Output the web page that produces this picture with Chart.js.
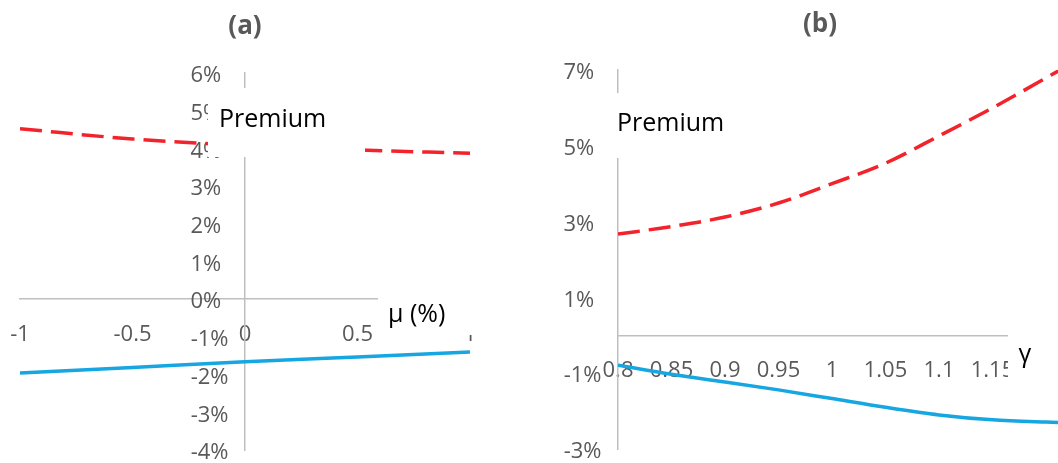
<!DOCTYPE html>
<html>
<head>
<meta charset="utf-8">
<script src="https://cdn.jsdelivr.net/npm/chart.js@4.4.1/dist/chart.umd.min.js"></script>
<style>
  html, body { margin: 0; padding: 0; background: #ffffff; }
  #wrap { position: relative; width: 1058px; height: 463px; overflow: hidden; }
  canvas { position: absolute; top: 0; }
  #panelA { left: 0; }
  #panelB { left: 520px; }
</style>
</head>
<body>
<div id="wrap">
  <canvas id="panelA" width="520" height="463"></canvas>
  <canvas id="panelB" width="538" height="463"></canvas>
</div>
<script>
// Panel (a): premium as a function of the drift μ (%)
const muValues       = [-1, -0.5, 0, 0.5, 1];
const premiumUpperA  = [4.52, 4.25, 4.08, 3.96, 3.87];
const premiumLowerA  = [-1.96, -1.81, -1.66, -1.53, -1.40];
const muTicks        = [-1, -0.5, 0, 0.5, 1];
const premiumTicksA  = [-4, -3, -2, -1, 0, 1, 2, 3, 4, 5, 6];

// Panel (b): premium as a function of γ
const gammaValues    = [0.8, 0.85, 0.9, 0.95, 1, 1.05, 1.1, 1.15, 1.2, 1.25];
const premiumUpperB  = [2.67, 2.87, 3.12, 3.49, 4.00, 4.54, 5.26, 6.00, 6.79, 7.60];
const premiumLowerB  = [-0.79, -1.03, -1.23, -1.44, -1.67, -1.90, -2.10, -2.23, -2.29, -2.33];
const gammaTicks     = [0.8, 0.85, 0.9, 0.95, 1, 1.05, 1.1, 1.15, 1.2];
const premiumTicksB  = [-3, -1, 1, 3, 5, 7];

const FONT = "'Open Sans', 'Noto Sans', sans-serif";
const TICK_COLOR = '#595959';
const AXIS_COLOR = '#BFBFBF';
const RED = '#F2232B';
const BLUE = '#16A6E1';

// percent labels sit clear of the vertical axis; non-negative ones a little further out
const pct = v => (v >= 0 ? v + '%\u2002\u2005\u2004' : v + '%\u2002\u2005');
const num = v => String(Math.round(v * 100) / 100);
const points = (xs, ys) => xs.map((x, i) => ({ x: x, y: ys[i] }));

// Title and label boxes; each box is filled white so it hides what lies beneath it
const labelBoxes = {
  id: 'labelBoxes',
  afterDatasetsDraw(chart, args, opts) {
    const ctx = chart.ctx;
    ctx.save();
    (opts.items || []).forEach(it => {
      if (it.rect) {
        ctx.fillStyle = '#ffffff';
        ctx.fillRect(it.rect[0], it.rect[1], it.rect[2] - it.rect[0], it.rect[3] - it.rect[1]);
      }
      ctx.fillStyle = it.color || '#000000';
      ctx.font = it.font;
      ctx.textAlign = it.align || 'left';
      ctx.textBaseline = 'middle';
      ctx.fillText(it.text, it.x, it.y);
    });
    ctx.restore();
  }
};

function noSpace(s, horizontal) {
  if (horizontal) { s.height = 0; } else { s.width = 0; }
  s.paddingLeft = 0; s.paddingRight = 0; s.paddingTop = 0; s.paddingBottom = 0;
}

function upperSet(data) {
  return {
    data: data, borderColor: RED, borderWidth: 3.5, borderDash: [22, 9],
    pointRadius: 0, fill: false, cubicInterpolationMode: 'monotone'
  };
}
function lowerSet(data) {
  return {
    data: data, borderColor: BLUE, borderWidth: 3.5,
    pointRadius: 0, fill: false, cubicInterpolationMode: 'monotone'
  };
}
function xScale(min, max, ticks, pad) {
  return {
    type: 'linear', min: min, max: max, position: { y: 0 },
    afterFit(s) { noSpace(s, true); },
    afterBuildTicks(s) { s.ticks = ticks.map(v => ({ value: v })); },
    grid: { display: false, drawTicks: false },
    border: { display: true, color: AXIS_COLOR, width: 1.5 },
    ticks: { padding: pad, color: TICK_COLOR, font: { family: FONT, size: 22 },
             maxRotation: 0, autoSkip: false, callback: num }
  };
}
function yScale(min, max, ticks, at) {
  return {
    type: 'linear', min: min, max: max, position: { x: at },
    afterFit(s) { noSpace(s, false); },
    afterBuildTicks(s) { s.ticks = ticks.map(v => ({ value: v })); },
    grid: { display: false, drawTicks: false },
    border: { display: true, color: AXIS_COLOR, width: 1.5 },
    ticks: { padding: 0, labelOffset: 3, color: TICK_COLOR, font: { family: FONT, size: 22 },
             autoSkip: false, callback: pct }
  };
}

new Chart(document.getElementById('panelA'), {
  type: 'line',
  data: { datasets: [ upperSet(points(muValues, premiumUpperA)), lowerSet(points(muValues, premiumLowerA)) ] },
  options: {
    responsive: false, animation: false, devicePixelRatio: 1,
    layout: { padding: { left: 20, right: 50, top: 73, bottom: 13 } },
    plugins: {
      legend: { display: false }, tooltip: { enabled: false },
      labelBoxes: { items: [
        { text: '(a)', x: 245, y: 27, align: 'center', color: '#595959', font: "bold 26px " + FONT },
        { rect: [208, 88, 365, 157], text: 'Premium', x: 219, y: 120, font: "25px " + FONT },
        { rect: [378, 290, 485, 335], text: 'μ (%)', x: 388, y: 315, font: "25px " + FONT }
      ] }
    },
    scales: { x: xScale(-1, 1, muTicks, 22), y: yScale(-4, 6, premiumTicksA, 0) }
  },
  plugins: [labelBoxes]
});

new Chart(document.getElementById('panelB'), {
  type: 'line',
  data: { datasets: [ upperSet(points(gammaValues, premiumUpperB)), lowerSet(points(gammaValues, premiumLowerB)) ] },
  options: {
    responsive: false, animation: false, devicePixelRatio: 1,
    layout: { padding: { left: 98, right: 0, top: 70, bottom: 14 } },
    plugins: {
      legend: { display: false }, tooltip: { enabled: false },
      labelBoxes: { items: [
        { text: '(b)', x: 300, y: 25, align: 'center', color: '#595959', font: "bold 26px " + FONT },
        { rect: [90, 93, 210, 158], text: 'Premium', x: 97, y: 124, font: "25px " + FONT },
        { rect: [488, 322, 538, 388], text: 'γ', x: 505, y: 355, align: 'center', font: "25px " + FONT }
      ] }
    },
    scales: { x: xScale(0.8, 0.8 + 440 / 1070, gammaTicks, 22), y: yScale(-3, 7, premiumTicksB, 0.8) }
  },
  plugins: [labelBoxes]
});
</script>
</body>
</html>
